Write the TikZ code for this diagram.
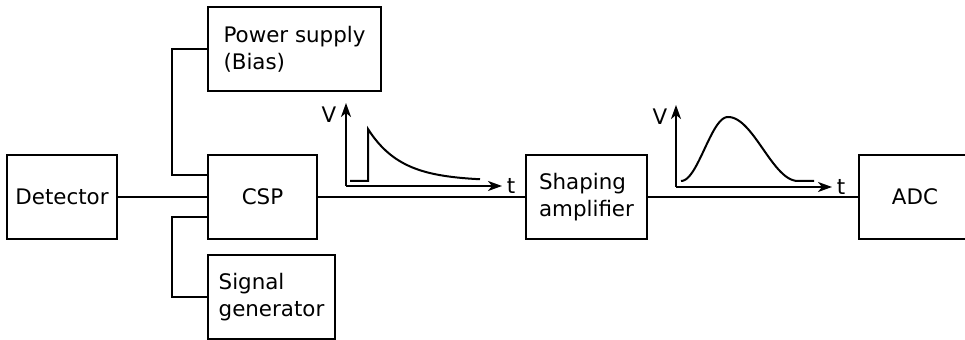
\documentclass[tikz,border=0pt]{standalone}
\usepackage{fontspec}
\setmainfont{DejaVu Sans}
\usetikzlibrary{arrows.meta}

\begin{document}
\begin{tikzpicture}[x=0.5pt,y=-0.5pt,line width=1pt,
        font=\fontsize{10.7}{13.5}\selectfont,
        blk/.style={draw,line width=1pt,minimum height=42pt,inner sep=0pt,align=left},
        axis/.style={-{Stealth[length=7pt,width=5pt,inset=2pt]}}]
        \useasboundingbox (0,0) rectangle (965,340);
        % blocks
        \node[blk,minimum width=55pt] (det) at (62,197) {Detector};
        \node[blk,minimum width=54.5pt] (csp) at (262.5,197) {CSP};
        \node[blk,minimum width=86.5pt] (pwr) at (294.5,49) {Power supply\\(Bias)};
        \node[blk,minimum width=63.5pt] (sig) at (271.5,297) {Signal\\generator};
        \node[blk,minimum width=60.5pt] (shp) at (586.5,197) {Shaping\\amplifier};
        \node[blk,minimum width=56pt] (adc) at (915,197) {ADC};
        % wiring
        \draw[-](det.east)--(csp.west);
        \draw[-](pwr.west)--++(-35,0)|-([yshift=11pt]csp.west);
        \draw[-](sig.west)--++(-35,0)|-([yshift=-10pt]csp.west);
        \draw[-](csp.east)--(shp.west);
        \draw[-](shp.east)--(adc.west);
        % preamp output pulse
        \coordinate (o1) at (346,186);
        \draw[axis](o1)--++(0,-83) node[pos=1,anchor=center,xshift=-8.5pt,yshift=-6pt] (v1) {V};
        \draw[axis](o1)--++(156,0) node[pos=1,anchor=center,xshift=4.5pt] (t1) {t};
        \draw[-](350,181)--(368,181)--(368,129)
            --plot[domain=0:112,samples=50] ({368+\x},{181-52*exp(-\x/33)});
        % shaped pulse (rise and fall as raised cosines)
        \coordinate (o2) at (676,187);
        \draw[axis](o2)--++(0,-82) node[pos=1,anchor=center,xshift=-8pt,yshift=-6pt] (v2) {V};
        \draw[axis](o2)--++(156,0) node[pos=1,anchor=center,xshift=4.5pt] (t2) {t};
        \draw[-]plot[domain=-47:0,samples=40] ({728+\x},{181-32*(1+cos(180*\x/47))})
            --plot[domain=0:70,samples=50] ({728+\x},{181-32*(1+cos(180*\x/70))})
            --(814,181);
\end{tikzpicture}
\end{document}
